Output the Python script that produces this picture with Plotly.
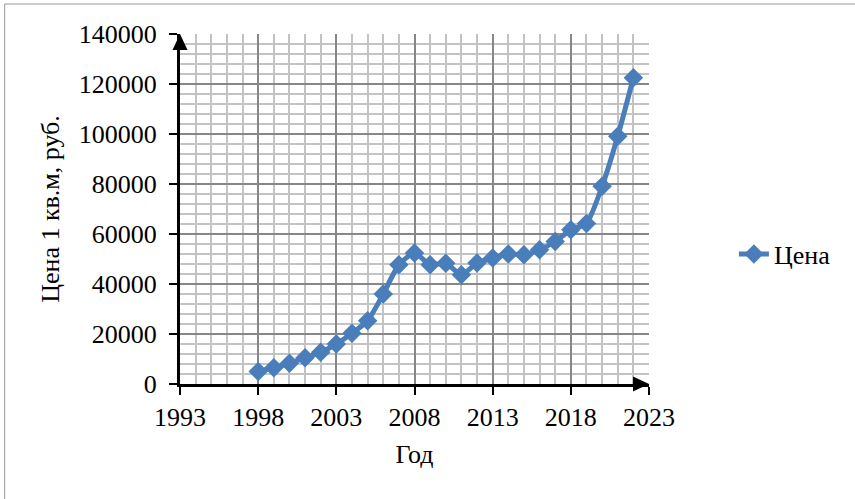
import plotly.graph_objects as go

# Average price per square metre by year
years = [1998, 1999, 2000, 2001, 2002, 2003, 2004, 2005, 2006, 2007, 2008, 2009,
         2010, 2011, 2012, 2013, 2014, 2015, 2016, 2017, 2018, 2019, 2020, 2021, 2022]
prices = [5000, 6500, 8300, 10500, 12700, 16000, 20300, 25300, 36000, 47700, 52400, 47700,
          48300, 43700, 48400, 50400, 52000, 51700, 53700, 57000, 61700, 64200, 79100, 99100, 122500]

series_name = "Цена"
x_title = "Год"
y_title = "Цена 1 кв.м, руб."

BLUE = "#4a7ebb"
FONT = "Liberation Serif, Times New Roman, serif"
FS = 26

W, H = 855, 499
L, R, T, B = 179.5, 206, 34, 115
pw, ph = W - L - R, H - T - B

fig = go.Figure()
fig.add_trace(go.Scatter(
    x=years, y=prices, name=series_name, mode="lines+markers",
    line=dict(color=BLUE, width=5, shape="spline", smoothing=0.6),
    marker=dict(symbol="diamond", size=15, color=BLUE),
))

def px_x(p):
    return (p - L) / pw

def px_y(p):
    return (H - B - p) / ph

shapes = [
    # arrowheads on the axes
    dict(type="path", xref="paper", yref="paper", xsizemode="pixel", ysizemode="pixel",
         xanchor=0, yanchor=1, path="M0,0 L-7.5,-16 L7.5,-16 Z",
         fillcolor="black", line=dict(width=0)),
    dict(type="path", xref="paper", yref="paper", xsizemode="pixel", ysizemode="pixel",
         xanchor=1, yanchor=0, path="M0,0 L-16,7.5 L-16,-7.5 Z",
         fillcolor="black", line=dict(width=0)),
    # chart frame (left and top edges)
    dict(type="line", xref="paper", yref="paper", x0=px_x(4), x1=px_x(4),
         y0=px_y(4), y1=px_y(H + 5), line=dict(color="#9a9a9a", width=1)),
    dict(type="line", xref="paper", yref="paper", x0=px_x(4), x1=px_x(W + 5),
         y0=px_y(4), y1=px_y(4), line=dict(color="#9a9a9a", width=1)),
]

fig.update_layout(
    width=W, height=H,
    margin=dict(l=L, r=R, t=T, b=B, pad=0),
    paper_bgcolor="white", plot_bgcolor="white",
    font=dict(family=FONT, size=FS, color="black"),
    showlegend=True,
    legend=dict(x=px_x(734), y=px_y(254), xanchor="left", yanchor="middle",
                font=dict(family=FONT, size=FS, color="black"),
                bgcolor="rgba(0,0,0,0)", itemwidth=30),
    shapes=shapes,
    xaxis=dict(
        range=[1993, 2023], tick0=1993, dtick=5, tickmode="linear",
        showline=True, linecolor="black", linewidth=3,
        ticks="outside", ticklen=8, tickwidth=2, tickcolor="black",
        showgrid=True, gridcolor="#878787", gridwidth=1.5,
        minor=dict(dtick=1, tick0=1993, showgrid=True, gridcolor="#c3c3c3", gridwidth=1.5),
        zeroline=False,
        title=dict(text=x_title, standoff=14, font=dict(size=FS)),
        tickfont=dict(size=FS),
    ),
    yaxis=dict(
        range=[0, 140000], tick0=0, dtick=20000, tickmode="linear",
        showline=True, linecolor="black", linewidth=3,
        ticks="outside", ticklen=8, tickwidth=2, tickcolor="black",
        ticklabelstandoff=7,
        showgrid=True, gridcolor="#878787", gridwidth=1.5,
        minor=dict(dtick=4000, tick0=0, showgrid=True, gridcolor="#c3c3c3", gridwidth=1.5),
        zeroline=False, tickformat="d",
        title=dict(text=y_title, standoff=12, font=dict(size=FS)),
        tickfont=dict(size=FS),
    ),
)

fig.write_html("out.html")
